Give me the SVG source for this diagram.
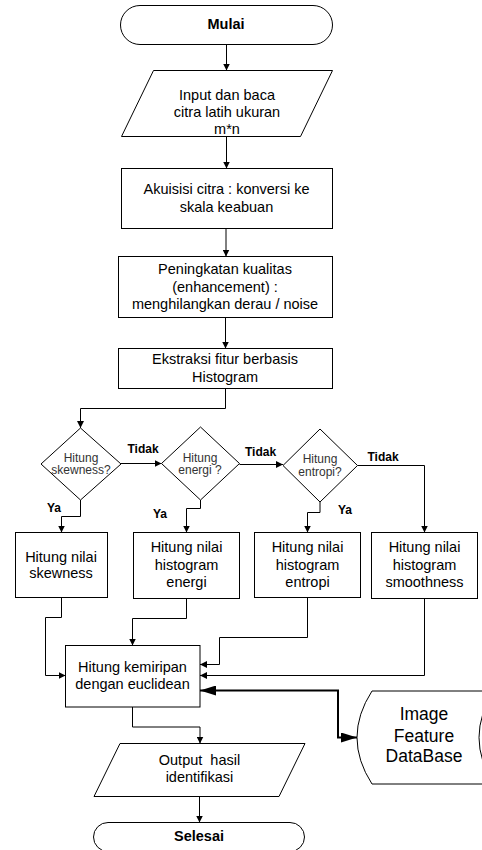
<svg xmlns="http://www.w3.org/2000/svg" width="482" height="850" viewBox="0 0 482 850">
<defs>
<style>
.n{fill:#fff;stroke:#000;stroke-width:1}
.c{fill:none;stroke:#000;stroke-width:1;marker-end:url(#arr)}
.k{fill:none;stroke:#000;stroke-width:2;marker-start:url(#big);marker-end:url(#big)}
text{font-family:"Liberation Sans",Arial,sans-serif;text-anchor:middle;fill:#000}
.t{font-size:14.5px}
.d{font-size:12px;fill:#333}
.b{font-weight:bold}
.l{font-size:12px;font-weight:bold}
.db{font-size:17.5px}
</style>
<marker id="arr" viewBox="0 0 10 10" refX="10" refY="5" markerWidth="7" markerHeight="7" markerUnits="userSpaceOnUse" orient="auto"><path d="M0,0 L10,5 L0,10 z" fill="#000"/></marker>
<marker id="big" viewBox="0 0 10 10" refX="10" refY="5" markerWidth="16" markerHeight="10" markerUnits="userSpaceOnUse" orient="auto-start-reverse" preserveAspectRatio="none"><path d="M0,0 L10,5 L0,10 z" fill="#000"/></marker>
</defs>

<g id="connectors">
<path class="c" d="M226.5,44.5 V70.5"/>
<path class="c" d="M226.5,136.5 V168.5"/>
<path class="c" d="M226,228.5 V256.5"/>
<path class="c" d="M225.5,317.5 V348.5"/>
<path class="c" d="M225.5,388.5 V408.5 H80.5 V428"/>
<path class="c" d="M121,463.5 H161.5"/>
<path class="c" d="M239.5,464.5 H283"/>
<path class="c" d="M357.5,465.5 H424.5 V532.5"/>
<path class="c" d="M80.5,500 V516.5 H61.5 V532.5"/>
<path class="c" d="M200.5,500 V508.5 H186.5 V532.5"/>
<path class="c" d="M320,502 V512.5 H307.5 V532.5"/>
<path class="c" d="M61.5,597.5 V617.5 H45.5 V675.5 H65.5"/>
<path class="c" d="M186.5,598.5 V618.5 H132.5 V645.5"/>
<path class="c" d="M307.5,597.5 V637.5 H219.5 V664.5 H200"/>
<path class="c" d="M424.5,598.5 V675.5 H200"/>
<path class="k" d="M200,690.5 H338 V737.5 H357"/>
<path class="c" d="M132.5,707 V727 H200 V743.5"/>
<path class="c" d="M199.5,796.5 V822.5"/>
<text class="l" x="143" y="453">Tidak</text>
<text class="l" x="260.5" y="455.5">Tidak</text>
<text class="l" x="383" y="461">Tidak</text>
<text class="l" x="54" y="512">Ya</text>
<text class="l" x="160" y="518">Ya</text>
<text class="l" x="345" y="514">Ya</text>
</g>

<g id="mulai">
<rect class="n" x="120.5" y="5.5" width="212" height="39" rx="19.5"/>
<text class="t b" x="226" y="29">Mulai</text>
</g>

<g id="input">
<polygon class="n" points="153.5,70.5 332.5,70.5 300.5,136.5 121.5,136.5"/>
<text class="t" x="227" y="100">Input dan baca</text>
<text class="t" x="227" y="117">citra latih ukuran</text>
<text class="t" x="227" y="134">m*n</text>
</g>

<g id="akuisisi">
<rect class="n" x="121.5" y="168.5" width="211" height="60"/>
<text class="t" x="226.5" y="194">Akuisisi citra : konversi ke</text>
<text class="t" x="226.5" y="211.5">skala keabuan</text>
</g>

<g id="peningkatan">
<rect class="n" x="118.5" y="256.5" width="214" height="61"/>
<text class="t" x="225" y="274">Peningkatan kualitas</text>
<text class="t" x="225" y="291.5">(enhancement) :</text>
<text class="t" x="225" y="309">menghilangkan derau / noise</text>
</g>

<g id="ekstraksi">
<rect class="n" x="118.5" y="348.5" width="214" height="40"/>
<text class="t" x="225" y="364">Ekstraksi fitur berbasis</text>
<text class="t" x="225" y="381.5">Histogram</text>
</g>

<g id="d-skewness">
<polygon class="n" points="80.5,428 121,464 80.5,500 41,464"/>
<text class="d" x="81" y="461.5">Hitung</text>
<text class="d" x="81" y="474">skewness?</text>
</g>

<g id="d-energi">
<polygon class="n" points="200.5,427 239.5,463.5 200.5,500 161.5,463.5"/>
<text class="d" x="200" y="461.5">Hitung</text>
<text class="d" x="200" y="474">energi ?</text>
</g>

<g id="d-entropi">
<polygon class="n" points="320,429 357.5,465.5 320,502 283,465.5"/>
<text class="d" x="320" y="463">Hitung</text>
<text class="d" x="320" y="475.5">entropi?</text>
</g>

<g id="b-skewness">
<rect class="n" x="15.5" y="532.5" width="92" height="65"/>
<text class="t" x="61" y="561.5">Hitung nilai</text>
<text class="t" x="61" y="578">skewness</text>
</g>

<g id="b-energi">
<rect class="n" x="133.5" y="532.5" width="106" height="66"/>
<text class="t" x="186.5" y="552">Hitung nilai</text>
<text class="t" x="186.5" y="569.5">histogram</text>
<text class="t" x="186.5" y="587">energi</text>
</g>

<g id="b-entropi">
<rect class="n" x="254.5" y="532.5" width="106" height="65"/>
<text class="t" x="307.5" y="552">Hitung nilai</text>
<text class="t" x="307.5" y="569.5">histogram</text>
<text class="t" x="307.5" y="587">entropi</text>
</g>

<g id="b-smoothness">
<rect class="n" x="371.5" y="532.5" width="106" height="66"/>
<text class="t" x="424.5" y="552">Hitung nilai</text>
<text class="t" x="424.5" y="569.5">histogram</text>
<text class="t" x="424.5" y="587">smoothness</text>
</g>

<g id="kemiripan">
<rect class="n" x="65.5" y="645.5" width="134.5" height="61.5"/>
<text class="t" x="132.5" y="672">Hitung kemiripan</text>
<text class="t" x="132.5" y="689">dengan euclidean</text>
</g>

<g id="database">
<path class="n" d="M372,691 L494,691 Q464,737.5 494,784 L372,784 Q342,737.5 372,691 Z"/>
<text class="db" x="424" y="720">Image</text>
<text class="db" x="424" y="741.5">Feature</text>
<text class="db" x="424" y="762">DataBase</text>
</g>

<g id="output">
<polygon class="n" points="120,743.5 305,743.5 279,796.5 94,796.5"/>
<text class="t" x="199.5" y="765" xml:space="preserve" style="white-space:pre">Output  hasil</text>
<text class="t" x="199.5" y="782">identifikasi</text>
</g>

<g id="selesai">
<rect class="n" x="93.5" y="822.5" width="211" height="29" rx="14.5"/>
<text class="t b" x="199" y="841">Selesai</text>
</g>
</svg>
